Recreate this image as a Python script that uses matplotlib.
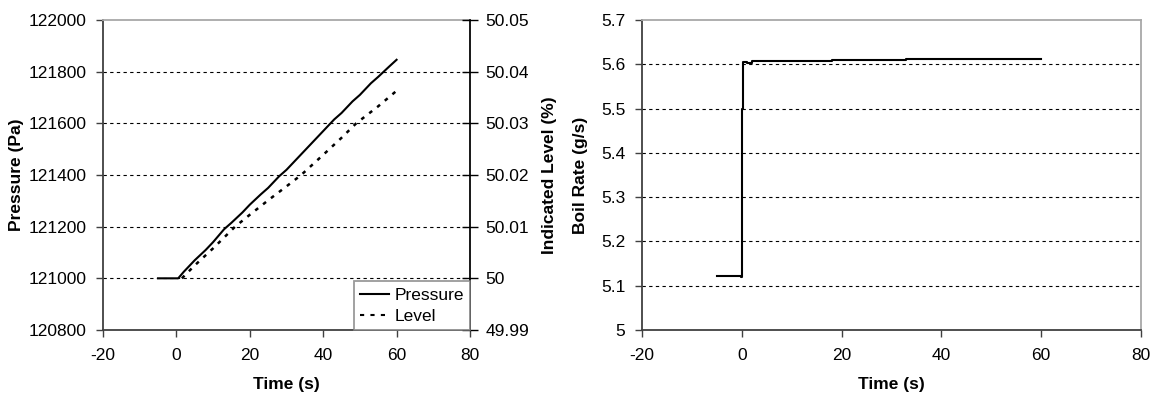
import matplotlib
matplotlib.use("Agg")
import matplotlib.pyplot as plt

plt.rcParams["font.family"] = ["Liberation Sans", "DejaVu Sans"]
plt.rcParams["axes.unicode_minus"] = False

# ---------------------------------------------------------
# Data
# ---------------------------------------------------------
pressure_time = [-5, 0, 0.5, 2, 3, 5, 8, 10, 13, 15, 18, 20, 23, 25, 28, 30,
                 33, 35, 38, 40, 43, 45, 48, 50, 53, 55, 58, 60]
pressure_pa = [121000, 121000, 121000, 121025, 121040, 121070, 121110, 121140,
               121190, 121215, 121255, 121285, 121325, 121350, 121395, 121420,
               121465, 121495, 121540, 121570, 121615, 121640, 121685, 121710,
               121755, 121780, 121820, 121846]

level_time = [1.5, 5, 10, 16, 20, 25, 30, 34, 40, 45, 49, 55, 60]
level_pct = [50.0, 50.0025, 50.0058, 50.01, 50.0123, 50.0151, 50.0178,
             50.02, 50.0239, 50.0272, 50.03, 50.0333, 50.0363]

boil_time = [-5, -0.1, 0, 0.1, 0.2, 0.3, 0.5, 1.0, 1.5, 2.0, 18, 33, 49, 60]
boil_rate = [5.123, 5.120, 5.19, 5.50, 5.60, 5.605, 5.606, 5.603, 5.604,
             5.607, 5.609, 5.611, 5.613, 5.613]

x_ticks = [-20, 0, 20, 40, 60, 80]
pressure_ticks = [120800, 121000, 121200, 121400, 121600, 121800, 122000]
level_ticks = [49.99, 50.0, 50.01, 50.02, 50.03, 50.04, 50.05]
level_labels = ["49.99", "50", "50.01", "50.02", "50.03", "50.04", "50.05"]
boil_ticks = [5.0, 5.1, 5.2, 5.3, 5.4, 5.5, 5.6, 5.7]
boil_labels = ["5", "5.1", "5.2", "5.3", "5.4", "5.5", "5.6", "5.7"]

TICK_FS = 12.5
LABEL_FS = 12.5


def style_axes(ax):
    ax.spines["top"].set_color("#a8a8a8")
    ax.spines["right"].set_color("#a8a8a8")
    ax.spines["left"].set_color("#404040")
    ax.spines["bottom"].set_color("#404040")
    for sp in ax.spines.values():
        sp.set_linewidth(1.3)
    ax.tick_params(direction="out", length=5, width=1, labelsize=TICK_FS,
                   colors="#404040", labelcolor="black")
    ax.tick_params(axis="x", pad=8)
    ax.tick_params(axis="y", pad=7)


def dashed_grid(ax, values):
    for v in values:
        ax.axhline(v, color="black", linestyle=(0, (3, 3)), linewidth=0.8, zorder=1)


fig = plt.figure(figsize=(11.57, 3.96), dpi=100)

# ---------------------------------------------------------
# Left panel: pressure + level
# ---------------------------------------------------------
ax1 = fig.add_axes([0.0890, 0.1667, 0.3172, 0.7828])
style_axes(ax1)
dashed_grid(ax1, pressure_ticks[1:-1])
p_line, = ax1.plot(pressure_time, pressure_pa, color="black", linewidth=1.5, zorder=3)
ax1.set_xlim(-20, 80)
ax1.set_ylim(120800, 122000)
ax1.set_xticks(x_ticks)
ax1.set_yticks(pressure_ticks)
ax1.set_xlabel("Time (s)", fontsize=LABEL_FS, fontweight="bold", labelpad=10)
ax1.set_ylabel("Pressure (Pa)", fontsize=LABEL_FS, fontweight="bold", labelpad=3)

ax2 = ax1.twinx()
ax2.plot(level_time, level_pct, color="black", linewidth=1.8,
         linestyle=(0, (1.5, 2.5)), zorder=3)
ax2.set_ylim(49.99, 50.05)
ax2.set_yticks(level_ticks)
ax2.set_yticklabels(level_labels)
ax2.spines["right"].set_color("black")
ax2.spines["right"].set_linewidth(1.2)
ax2.spines["top"].set_visible(False)
ax2.spines["left"].set_visible(False)
ax2.spines["bottom"].set_visible(False)
ax2.tick_params(axis="y", direction="inout", length=12, width=1, pad=5,
                labelsize=TICK_FS, colors="black")
ax2.set_ylabel("Indicated Level (%)", fontsize=LABEL_FS, fontweight="bold", labelpad=9)

l_handle = plt.Line2D([], [], color="black", linewidth=1.5, linestyle=(0, (2, 3)))
leg = ax2.legend([p_line, l_handle], ["Pressure", "Level"], loc="lower right",
                 fontsize=TICK_FS, frameon=True, fancybox=False,
                 borderaxespad=0, handlelength=1.7, handletextpad=0.3,
                 borderpad=0.35, labelspacing=0.35)
leg.get_frame().set_edgecolor("#808080")
leg.get_frame().set_linewidth(1.3)

# ---------------------------------------------------------
# Right panel: boil rate
# ---------------------------------------------------------
ax3 = fig.add_axes([0.5549, 0.1667, 0.4313, 0.7828])
style_axes(ax3)
dashed_grid(ax3, boil_ticks[1:-1])
ax3.plot(boil_time, boil_rate, color="black", linewidth=1.5,
         drawstyle="steps-post", zorder=3)
ax3.set_xlim(-20, 80)
ax3.set_ylim(5.0, 5.7)
ax3.set_xticks(x_ticks)
ax3.set_yticks(boil_ticks)
ax3.set_yticklabels(boil_labels)
ax3.set_xlabel("Time (s)", fontsize=LABEL_FS, fontweight="bold", labelpad=10)
ax3.set_ylabel("Boil Rate (g/s)", fontsize=LABEL_FS, fontweight="bold", labelpad=9)

fig.savefig("out.png", dpi=100)
